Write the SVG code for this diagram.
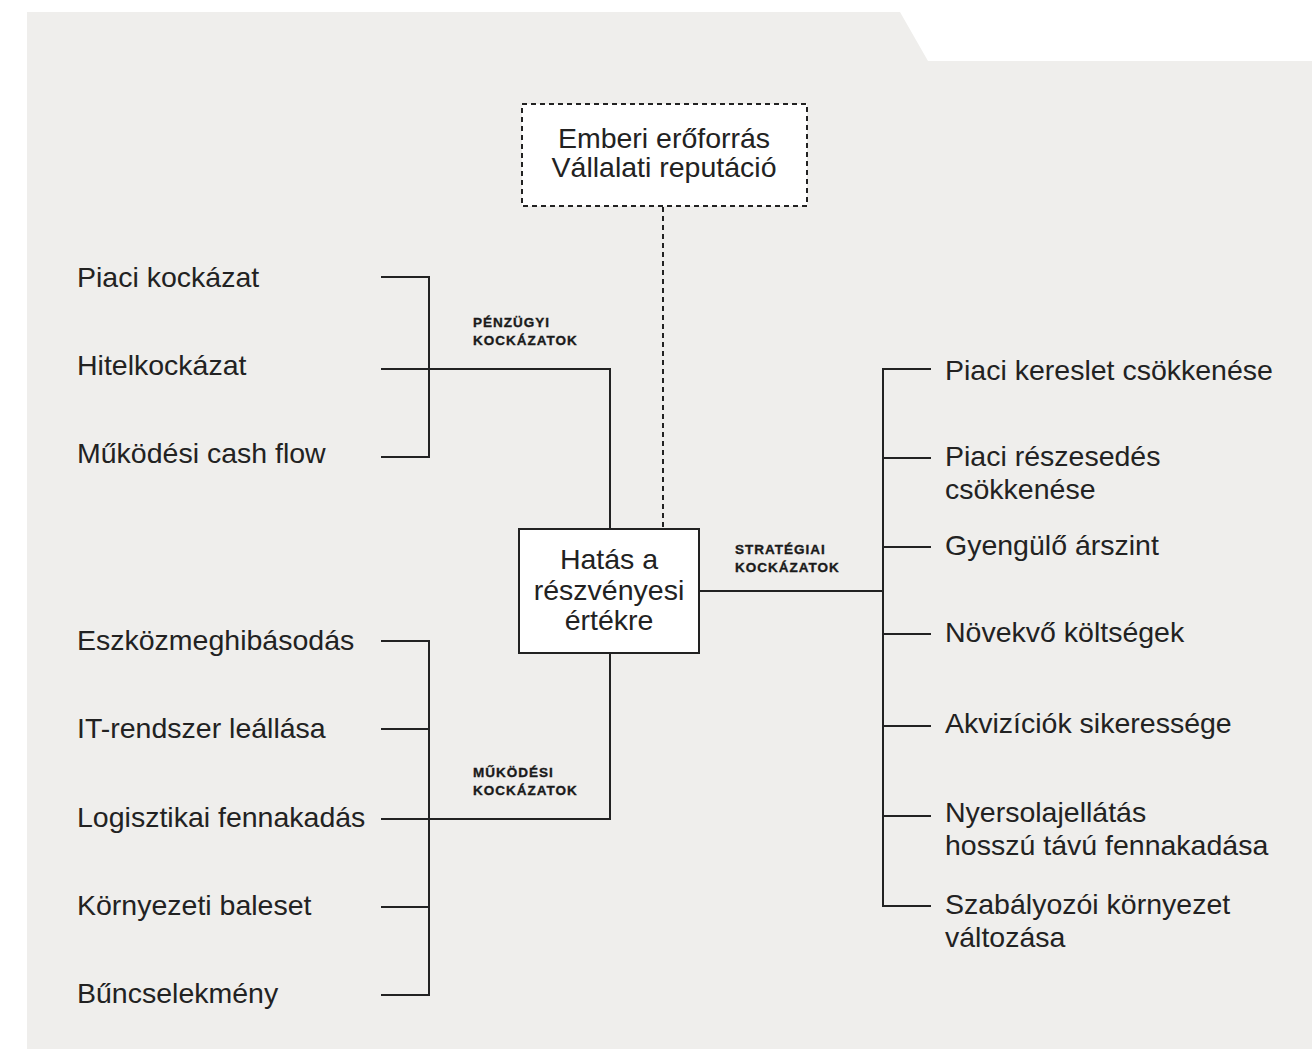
<svg xmlns="http://www.w3.org/2000/svg" width="1312" height="1049" viewBox="0 0 1312 1049">
<style>
.bg{fill:#efeeec}
.ln{fill:none;stroke:#222;stroke-width:2}
.dash{fill:none;stroke:#222;stroke-width:2;stroke-dasharray:5 4}
.box{fill:#fff;stroke:#222;stroke-width:2}
.dbox{fill:#fff;stroke:#222;stroke-width:2;stroke-dasharray:5 4}
.t{font-family:"Liberation Sans",Arial,sans-serif;font-size:28.5px;fill:#222}
.c{text-anchor:middle}
.s{font-family:"Liberation Sans",Arial,sans-serif;font-size:13.5px;font-weight:bold;letter-spacing:1px;fill:#1a1a1a;stroke:#1a1a1a;stroke-width:0.35}
</style>
<polygon class="bg" points="27,12 900,12 928,61 1312,61 1312,1049 27,1049"/>
<g id="connectors">
<path class="ln" d="M381,277 H429 V457 H381 M381,369 H610 V529"/>
<path class="ln" d="M381,641 H429 V995 H381 M381,729 H429 M381,907 H429 M381,819 H610 V653"/>
<path class="ln" d="M699,591 H883 M931,369 H883 V906 H931 M883,458 H931 M883,547 H931 M883,634 H931 M883,726 H931 M883,816 H931"/>
<path class="dash" d="M663,207 V529"/>
</g>
<g id="label-penzugyi"><text class="s" x="473" y="327">PÉNZÜGYI</text><text class="s" x="473" y="345">KOCKÁZATOK</text></g>
<g id="label-strategiai"><text class="s" x="735" y="554">STRATÉGIAI</text><text class="s" x="735" y="572">KOCKÁZATOK</text></g>
<g id="label-mukodesi"><text class="s" x="473" y="777">MŰKÖDÉSI</text><text class="s" x="473" y="795">KOCKÁZATOK</text></g>
<g id="node-hr">
<rect class="dbox" x="522" y="104" width="285" height="102"/>
<text class="t c" x="664" y="148">Emberi erőforrás</text>
<text class="t c" x="664" y="177">Vállalati reputáció</text>
</g>
<g id="node-center">
<rect class="box" x="519" y="529" width="180" height="124"/>
<text class="t c" x="609" y="569">Hatás a</text>
<text class="t c" x="609" y="600">részvényesi</text>
<text class="t c" x="609" y="630">értékre</text>
</g>
<g id="node-piaci-kockazat"><text class="t" x="77" y="287">Piaci kockázat</text></g>
<g id="node-hitelkockazat"><text class="t" x="77" y="375">Hitelkockázat</text></g>
<g id="node-cash-flow"><text class="t" x="77" y="463">Működési cash flow</text></g>
<g id="node-eszkoz"><text class="t" x="77" y="650">Eszközmeghibásodás</text></g>
<g id="node-it"><text class="t" x="77" y="738">IT-rendszer leállása</text></g>
<g id="node-logisztika"><text class="t" x="77" y="827">Logisztikai fennakadás</text></g>
<g id="node-kornyezeti"><text class="t" x="77" y="915">Környezeti baleset</text></g>
<g id="node-bun"><text class="t" x="77" y="1003">Bűncselekmény</text></g>
<g id="node-kereslet"><text class="t" x="945" y="380">Piaci kereslet csökkenése</text></g>
<g id="node-reszesedes"><text class="t" x="945" y="466">Piaci részesedés</text><text class="t" x="945" y="499">csökkenése</text></g>
<g id="node-arszint"><text class="t" x="945" y="555">Gyengülő árszint</text></g>
<g id="node-koltsegek"><text class="t" x="945" y="642">Növekvő költségek</text></g>
<g id="node-akviziciok"><text class="t" x="945" y="733">Akvizíciók sikeressége</text></g>
<g id="node-nyersolaj"><text class="t" x="945" y="822">Nyersolajellátás</text><text class="t" x="945" y="855">hosszú távú fennakadása</text></g>
<g id="node-szabalyozoi"><text class="t" x="945" y="914">Szabályozói környezet</text><text class="t" x="945" y="947">változása</text></g>
</svg>
